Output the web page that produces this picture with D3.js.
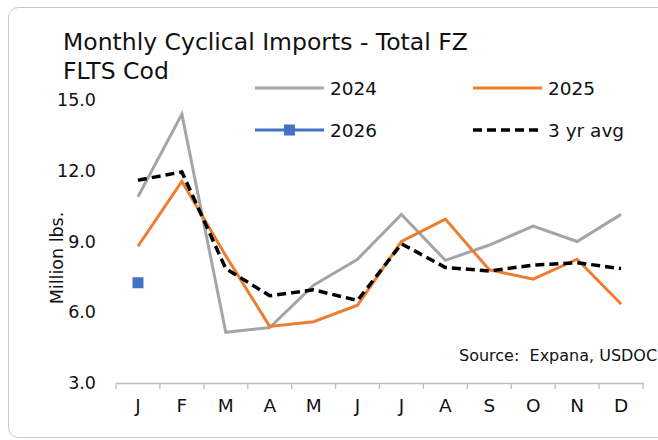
<!DOCTYPE html>
<html lang="en">
<head>
    <meta charset="UTF-8">
    <style>
        body { margin: 0; background: #fff; }
        svg text { font-family: "DejaVu Sans", "Open Sans", sans-serif; fill: #111; }
    </style>
    <title>Monthly Cyclical Imports</title>
</head>
<body>
<script src="https://d3js.org/d3.v7.min.js"></script>
<script>
    // months and series (million lbs.)
    var months = ['J', 'F', 'M', 'A', 'M', 'J', 'J', 'A', 'S', 'O', 'N', 'D'];
    var y2024 = [10.9, 14.4, 5.15, 5.35, 7.15, 8.25, 10.15, 8.2, 8.85, 9.65, 9.0, 10.15];
    var y2025 = [8.8, 11.55, 8.4, 5.4, 5.6, 6.3, 9.0, 9.95, 7.8, 7.4, 8.25, 6.35];
    var y2026 = [7.25];
    var avg3 = [11.6, 11.95, 7.85, 6.7, 6.95, 6.5, 8.9, 7.9, 7.75, 8.0, 8.1, 7.85];
    var yTicks = [3, 6, 9, 12, 15];

    var width = 658, height = 440;
    var font = '"DejaVu Sans", sans-serif';
    var svg = d3.select('body').append('svg').attr('width', width).attr('height', height);

    // frame (runs past the right edge like the original)
    svg.append('rect')
        .attr('x', 8.5).attr('y', 7.5)
        .attr('width', 700).attr('height', 430)
        .attr('rx', 10)
        .attr('fill', 'none')
        .attr('stroke', '#c8c8c8');

    var x = d3.scaleBand().domain(d3.range(12)).range([116, 643]);
    var y = d3.scaleLinear().domain([3, 15]).range([383, 100]);
    var cx = function (i) { return x(i) + x.bandwidth() / 2; };

    // title
    var title = svg.append('text').attr('x', 63).attr('font-size', 23.5);
    title.append('tspan').attr('x', 63).attr('y', 50).text('Monthly Cyclical Imports - Total FZ');
    title.append('tspan').attr('x', 63).attr('y', 79).text('FLTS Cod');

    // y axis
    var yAxis = svg.append('g').attr('transform', 'translate(96,0)')
        .call(d3.axisLeft(y).tickValues(yTicks).tickFormat(d3.format('.1f')).tickSize(0).tickPadding(0));
    yAxis.select('.domain').remove();
    yAxis.selectAll('text').attr('font-size', 17.5).attr('font-family', font).attr('fill', '#111');

    svg.append('text')
        .attr('transform', 'translate(63,258) rotate(-90)')
        .attr('text-anchor', 'middle')
        .attr('font-size', 17.5)
        .text('Million lbs.');

    // x axis
    var xAxis = svg.append('g').attr('transform', 'translate(0,383)')
        .call(d3.axisBottom(x).tickFormat(function (i) { return months[i]; }).tickSize(0).tickPadding(16));
    xAxis.select('.domain').attr('stroke', '#bdbdbd').attr('stroke-width', 1.3);
    xAxis.selectAll('text').attr('font-size', 18.5).attr('font-family', font).attr('fill', '#111');
    var bounds = d3.range(12).map(function (i) { return x(i); }).concat([x.range()[1]]);
    xAxis.selectAll('.bound').data(bounds).enter().append('line')
        .attr('class', 'bound')
        .attr('x1', function (d) { return d; }).attr('x2', function (d) { return d; })
        .attr('y1', 0).attr('y2', 6)
        .attr('stroke', '#bdbdbd').attr('stroke-width', 1.3);

    var line = d3.line().x(function (d, i) { return cx(i); }).y(function (d) { return y(d); });

    svg.append('path').datum(y2024).attr('d', line)
        .attr('fill', 'none').attr('stroke', '#a5a5a5').attr('stroke-width', 3);
    svg.append('path').datum(y2025).attr('d', line)
        .attr('fill', 'none').attr('stroke', '#ed7d31').attr('stroke-width', 3);
    svg.append('path').datum(avg3).attr('d', line)
        .attr('fill', 'none').attr('stroke', '#000').attr('stroke-width', 3.5)
        .attr('stroke-dasharray', '9,5');
    svg.selectAll('.m26').data(y2026).enter().append('rect')
        .attr('class', 'm26')
        .attr('x', function (d, i) { return cx(i) - 5.5; })
        .attr('y', function (d) { return y(d) - 5.5; })
        .attr('width', 11).attr('height', 11)
        .attr('fill', '#4472c4');

    // source
    svg.append('text').attr('x', 459).attr('y', 361).attr('font-size', 16)
        .attr('xml:space', 'preserve')
        .text('Source:  Expana, USDOC');

    // legend
    var legend = [
        {name: '2024', x: 255, y: 88, color: '#a5a5a5', dash: null, marker: false},
        {name: '2025', x: 473, y: 88, color: '#ed7d31', dash: null, marker: false},
        {name: '2026', x: 255, y: 130, color: '#4472c4', dash: null, marker: true},
        {name: '3 yr avg', x: 473, y: 130, color: '#000', dash: '9,5', marker: false}
    ];
    var lg = svg.selectAll('.lg').data(legend).enter().append('g').attr('class', 'lg')
        .attr('transform', function (d) { return 'translate(' + d.x + ',' + d.y + ')'; });
    lg.append('line').attr('x1', 0).attr('x2', 69).attr('y1', 0).attr('y2', 0)
        .attr('stroke', function (d) { return d.color; })
        .attr('stroke-width', function (d) { return d.dash ? 3.5 : 3; })
        .attr('stroke-dasharray', function (d) { return d.dash; });
    lg.filter(function (d) { return d.marker; }).append('rect')
        .attr('x', 29).attr('y', -5.5).attr('width', 11).attr('height', 11)
        .attr('fill', function (d) { return d.color; });
    lg.append('text').attr('x', 75).attr('y', 7).attr('font-size', 18.5)
        .text(function (d) { return d.name; });
</script>
</body>
</html>
